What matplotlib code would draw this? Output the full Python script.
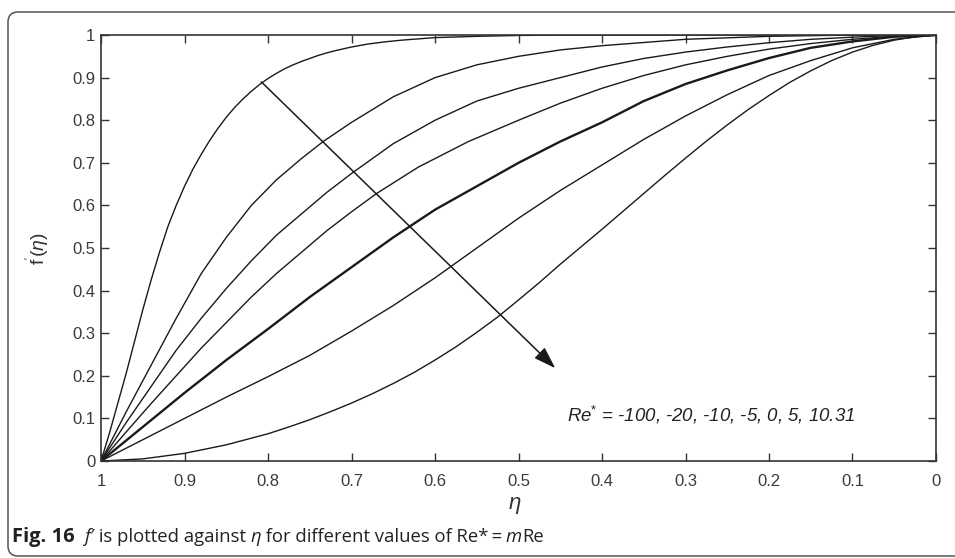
import matplotlib
matplotlib.use("Agg")
import matplotlib.pyplot as plt
from matplotlib.patches import FancyBboxPatch
from matplotlib.transforms import IdentityTransform

plt.rcParams['font.family'] = ['Liberation Sans', 'DejaVu Sans']
plt.rcParams['mathtext.fontset'] = 'custom'
plt.rcParams['mathtext.rm'] = 'Liberation Sans'
plt.rcParams['mathtext.it'] = 'Liberation Sans:italic'
plt.rcParams['mathtext.bf'] = 'Liberation Sans:bold'

# values: eta (x) and f'(eta) (y), one curve per Re*
re_values = ["-100", "-20", "-10", "-5", "0", "5", "10.31"]

eta_m100 = [1.00, 0.99, 0.98, 0.97, 0.96, 0.95, 0.94, 0.93, 0.92, 0.91, 0.90, 0.89, 0.88,
            0.87, 0.86, 0.85, 0.84, 0.83, 0.82, 0.81, 0.80, 0.79, 0.78, 0.77, 0.76, 0.75,
            0.74, 0.73, 0.72, 0.70, 0.68, 0.66, 0.64, 0.62, 0.60, 0.55, 0.50, 0.45, 0.20, 0.00]
f_m100 = [0.0, 0.065, 0.135, 0.205, 0.28, 0.355, 0.425, 0.49, 0.55, 0.60, 0.645, 0.685, 0.72,
          0.752, 0.781, 0.807, 0.83, 0.85, 0.868, 0.884, 0.898, 0.91, 0.921, 0.93, 0.938, 0.945,
          0.952, 0.958, 0.963, 0.972, 0.979, 0.984, 0.988, 0.991, 0.994, 0.997, 0.999, 1.0, 1.0, 1.0]

eta_m20 = [1.00, 0.97, 0.94, 0.91, 0.88, 0.85, 0.82, 0.79, 0.76, 0.734, 0.70, 0.65, 0.60,
           0.55, 0.50, 0.45, 0.40, 0.30, 0.20, 0.10, 0.00]
f_m20 = [0.0, 0.115, 0.225, 0.335, 0.44, 0.525, 0.60, 0.66, 0.71, 0.75, 0.795, 0.855, 0.90,
         0.93, 0.95, 0.965, 0.975, 0.99, 0.997, 1.0, 1.0]

eta_m10 = [1.00, 0.97, 0.94, 0.91, 0.88, 0.85, 0.82, 0.79, 0.76, 0.73, 0.70, 0.65, 0.60,
           0.55, 0.50, 0.45, 0.40, 0.35, 0.30, 0.25, 0.20, 0.15, 0.10, 0.05, 0.00]
f_m10 = [0.0, 0.09, 0.175, 0.26, 0.335, 0.405, 0.47, 0.53, 0.58, 0.63, 0.675, 0.745, 0.80,
         0.845, 0.875, 0.90, 0.925, 0.945, 0.96, 0.972, 0.982, 0.99, 0.995, 0.999, 1.0]

eta_m5 = [1.00, 0.97, 0.94, 0.91, 0.88, 0.85, 0.82, 0.79, 0.76, 0.73, 0.70, 0.67, 0.62,
          0.56, 0.50, 0.45, 0.40, 0.35, 0.30, 0.25, 0.20, 0.15, 0.10, 0.05, 0.00]
f_m5 = [0.0, 0.068, 0.135, 0.20, 0.265, 0.325, 0.385, 0.44, 0.49, 0.54, 0.585, 0.628, 0.69,
        0.75, 0.80, 0.84, 0.875, 0.905, 0.93, 0.95, 0.967, 0.98, 0.99, 0.997, 1.0]

eta_0 = [1.00, 0.95, 0.90, 0.85, 0.80, 0.75, 0.70, 0.65, 0.60, 0.55, 0.50, 0.45, 0.40,
         0.35, 0.30, 0.25, 0.20, 0.15, 0.10, 0.05, 0.00]
f_0 = [0.0, 0.08, 0.16, 0.237, 0.31, 0.385, 0.455, 0.525, 0.59, 0.645, 0.70, 0.75, 0.795,
       0.845, 0.885, 0.917, 0.946, 0.97, 0.985, 0.996, 1.0]

eta_5 = [1.00, 0.95, 0.90, 0.85, 0.80, 0.75, 0.70, 0.65, 0.60, 0.55, 0.50, 0.45, 0.40,
         0.35, 0.30, 0.25, 0.20, 0.15, 0.10, 0.05, 0.00]
f_5 = [0.0, 0.05, 0.10, 0.15, 0.198, 0.248, 0.305, 0.365, 0.43, 0.50, 0.57, 0.635, 0.695,
       0.755, 0.81, 0.86, 0.905, 0.94, 0.97, 0.99, 1.0]

eta_10 = [1.00, 0.95, 0.90, 0.85, 0.80, 0.775, 0.75, 0.725, 0.70, 0.675, 0.65, 0.625, 0.60,
          0.575, 0.55, 0.525, 0.50, 0.475, 0.45, 0.425, 0.40, 0.375, 0.35, 0.325, 0.30,
          0.275, 0.25, 0.225, 0.20, 0.175, 0.15, 0.125, 0.10, 0.075, 0.05, 0.025, 0.00]
f_10 = [0.0, 0.005, 0.018, 0.038, 0.064, 0.08, 0.097, 0.116, 0.136, 0.158, 0.182, 0.208, 0.237,
        0.268, 0.302, 0.338, 0.378, 0.419, 0.462, 0.503, 0.544, 0.586, 0.628, 0.67, 0.711,
        0.751, 0.789, 0.825, 0.858, 0.889, 0.916, 0.94, 0.96, 0.976, 0.988, 0.996, 1.0]

curves = [(eta_m100, f_m100), (eta_m20, f_m20), (eta_m10, f_m10), (eta_m5, f_m5),
          (eta_0, f_0), (eta_5, f_5), (eta_10, f_10)]

xticks = [1, 0.9, 0.8, 0.7, 0.6, 0.5, 0.4, 0.3, 0.2, 0.1, 0]
xtick_labels = ["1", "0.9", "0.8", "0.7", "0.6", "0.5", "0.4", "0.3", "0.2", "0.1", "0"]
yticks = [0, 0.1, 0.2, 0.3, 0.4, 0.5, 0.6, 0.7, 0.8, 0.9, 1]
ytick_labels = ["0", "0.1", "0.2", "0.3", "0.4", "0.5", "0.6", "0.7", "0.8", "0.9", "1"]

arrow_start = (0.808, 0.890)
arrow_end = (0.456, 0.218)

fig = plt.figure(figsize=(9.55, 5.58), dpi=100)
ax = fig.add_axes([0.1058, 0.1738, 0.8743, 0.7634])

for i, (x, y) in enumerate(curves):
    lw = 1.7 if re_values[i] == "0" else 1.0
    ax.plot(x, y, color='#1a1a1a', lw=lw, solid_joinstyle='round')

ax.set_xlim(1, 0)
ax.set_ylim(0, 1)
ax.set_xticks(xticks)
ax.set_xticklabels(xtick_labels)
ax.set_yticks(yticks)
ax.set_yticklabels(ytick_labels)
ax.tick_params(direction='in', length=6, width=1, top=True, right=True,
               labelsize=12, colors='#333333', labelcolor='#3a3a3a')
ax.tick_params(axis='x', pad=9)
ax.tick_params(axis='y', pad=4)
for s in ax.spines.values():
    s.set_linewidth(1.2)
    s.set_color('#333333')

ax.set_xlabel(r"$\eta$", fontsize=16, color='#333333')
ax.xaxis.set_label_coords(0.496, -0.08)
ax.set_ylabel(r"f$^{'}$($\eta$)", fontsize=14, color='#333333')
ax.yaxis.set_label_coords(-0.058, 0.5)

ax.annotate('', xy=arrow_end, xytext=arrow_start,
            arrowprops=dict(arrowstyle='-|>,head_length=0.9,head_width=0.3',
                            lw=1.1, color='#1a1a1a', shrinkA=0, shrinkB=0,
                            mutation_scale=15))

ax.text(0.442, 0.108, r"Re$^{*}$ = " + ", ".join(re_values),
        fontsize=13.4, style='italic', color='#222222', va='center', ha='left')

# caption built piece by piece so bold / italic parts sit in one line
cap_font = ['Open Sans', 'DejaVu Sans']
caption = [("Fig. 16", dict(weight='bold', size=14.5)),
           ("  ", dict(size=13.3)),
           ("f\u2032", dict(style='italic', size=13.3)),
           (" is plotted against ", dict(size=13.3)),
           ("\u03b7", dict(style='italic', size=13.3)),
           (" for different values of Re*\u2009=\u2009", dict(size=13.3)),
           ("m", dict(style='italic', size=13.3)),
           ("Re", dict(size=13.3))]
renderer = fig.canvas.get_renderer()
xpos = 12
for txt, kw in caption:
    t = fig.text(xpos, 16, txt, transform=IdentityTransform(), family=cap_font,
                 color='#222222', va='baseline', ha='left', **kw)
    xpos = t.get_window_extent(renderer).x1

frame = FancyBboxPatch((8, 2), 960, 544, boxstyle="round,pad=0,rounding_size=10",
                       transform=IdentityTransform(), fill=False,
                       edgecolor='#555555', lw=1.1)
fig.patches.append(frame)

fig.savefig("out.png", dpi=100)
